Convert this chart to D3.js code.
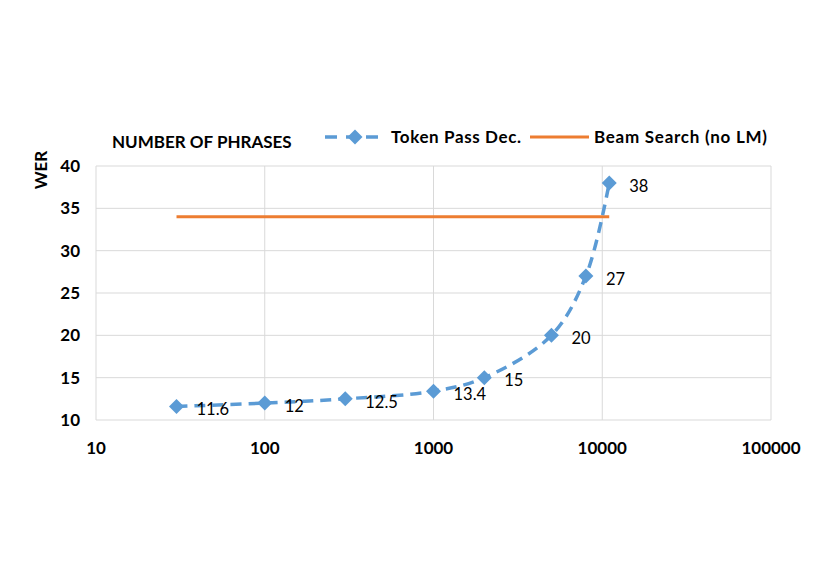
<!DOCTYPE html>
<html><head><meta charset="utf-8">
<script src="https://cdn.jsdelivr.net/npm/d3@7"></script>
<style>body{margin:0;background:#fff;} text{font-family:Lato,"Open Sans",sans-serif;}</style>
</head><body>
<svg id="c" width="830" height="573"></svg>
<script>
const phrases = [30, 100, 300, 1000, 2000, 5000, 8000, 11000];
const tokenPassWER = [11.6, 12, 12.5, 13.4, 15, 20, 27, 38];
const beamX = [30, 11000];
const beamWER = [34, 34];
const xTicks = [10, 100, 1000, 10000, 100000];
const yTicks = [10, 15, 20, 25, 30, 35, 40];

const svg = d3.select("#c");
const L = 96, R = 771, T = 166, B = 420;
const x = d3.scaleLog().domain([10, 100000]).range([L, R]);
const y = d3.scaleLinear().domain([10, 40]).range([B, T]);
const grid = "#d9d9d9";

svg.append("g").selectAll("line").data(yTicks).join("line")
  .attr("x1", L).attr("x2", R).attr("y1", d => y(d)).attr("y2", d => y(d))
  .attr("stroke", grid).attr("stroke-width", 1);
svg.append("g").selectAll("line").data(xTicks).join("line")
  .attr("x1", d => x(d)).attr("x2", d => x(d)).attr("y1", T).attr("y2", B)
  .attr("stroke", grid).attr("stroke-width", 1);

svg.append("g").selectAll("text").data(yTicks).join("text")
  .attr("x", 80).attr("y", d => y(d)).attr("dy", "0.35em")
  .attr("text-anchor", "end").attr("font-size", 17).attr("font-weight", "bold")
  .attr("fill", "#000").text(d => d);
svg.append("g").selectAll("text").data(xTicks).join("text")
  .attr("x", d => x(d)).attr("y", 448).attr("dy", "0.35em")
  .attr("text-anchor", "middle").attr("font-size", 17).attr("font-weight", "bold")
  .attr("fill", "#000").text(d => d);

svg.append("text").attr("transform", "translate(47,170) rotate(-90)")
  .attr("text-anchor", "middle").attr("font-size", 17).attr("font-weight", "bold").text("WER");

svg.append("text").attr("x", 112).attr("y", 142).attr("dy", "0.35em")
  .attr("font-size", 17).attr("font-weight", "bold").text("NUMBER OF PHRASES");

svg.append("line")
  .attr("x1", x(beamX[0])).attr("x2", x(beamX[1]))
  .attr("y1", y(beamWER[0])).attr("y2", y(beamWER[1]))
  .attr("stroke", "#ED7D31").attr("stroke-width", 3);

const pts = phrases.map((p, i) => [x(p), y(tokenPassWER[i])]);
svg.append("path").attr("d", d3.line().curve(d3.curveCatmullRom.alpha(0.5))(pts))
  .attr("fill", "none").attr("stroke", "#5B9BD5").attr("stroke-width", 3.5)
  .attr("stroke-dasharray", "11,7");

svg.append("g").selectAll("path").data(pts).join("path")
  .attr("transform", d => `translate(${d[0]},${d[1]})`)
  .attr("d", "M0,-7.5L7.5,0L0,7.5L-7.5,0Z")
  .attr("fill", "#5B9BD5");

svg.append("g").selectAll("text").data(phrases).join("text")
  .attr("x", (d) => x(d) + 20).attr("y", (d, i) => y(tokenPassWER[i]) + 3)
  .attr("dy", "0.35em").attr("font-size", 16.5).attr("fill", "#000")
  .text((d, i) => tokenPassWER[i]);

const lg = svg.append("g");
lg.append("line").attr("x1", 325).attr("x2", 384).attr("y1", 137).attr("y2", 137)
  .attr("stroke", "#5B9BD5").attr("stroke-width", 3.5).attr("stroke-dasharray", "12,9,0,0,11,9");
lg.append("path").attr("d", "M355,129.5L362.5,137L355,144.5L347.5,137Z").attr("fill", "#5B9BD5");
lg.append("text").attr("x", 391).attr("y", 137).attr("dy", "0.35em")
  .attr("font-size", 17).attr("font-weight", "bold").attr("textLength", 130).text("Token Pass Dec.");
lg.append("line").attr("x1", 530).attr("x2", 589).attr("y1", 137).attr("y2", 137)
  .attr("stroke", "#ED7D31").attr("stroke-width", 3);
lg.append("text").attr("x", 594).attr("y", 137).attr("dy", "0.35em")
  .attr("font-size", 17).attr("font-weight", "bold").attr("textLength", 173).text("Beam Search (no LM)");
</script>
</body></html>
